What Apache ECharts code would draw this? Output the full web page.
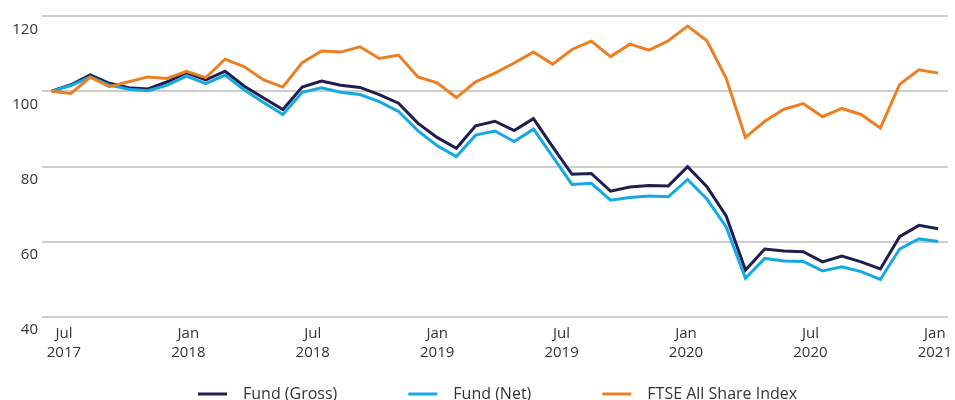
<!DOCTYPE html>
<html>
<head>
<meta charset="utf-8">
<script src="https://cdn.jsdelivr.net/npm/echarts@6/dist/echarts.min.js"></script>
<style>
  html, body { margin: 0; padding: 0; background: #fff; }
  #chart { width: 955px; height: 400px; }
</style>
</head>
<body>
<div id="chart"></div>
<script>
// index of each observation (47 points, Jul 2017 -> Jan 2021)
var points = Array.from({ length: 47 }, function (_, i) { return String(i); });

// month offsets from Jul 2017 used for the date labels
var tickMonths = [0, 6, 12, 18, 24, 30, 36, 42];
var tickLabels = ['Jul\n2017', 'Jan\n2018', 'Jul\n2018', 'Jan\n2019', 'Jul\n2019', 'Jan\n2020', 'Jul\n2020', 'Jan\n2021'];

var fundGross = [100, 101.7, 104.3, 102.1, 100.9, 100.6, 102.5, 104.9, 103, 105.3,
    101.3, 98.2, 95.1, 101.1, 102.7, 101.6, 101, 99.1, 96.8, 91.5,
    87.7, 84.8, 90.8, 92, 89.5, 92.7, 85.2, 77.9, 78.1, 73.4,
    74.5, 74.9, 74.8, 79.9, 74.6, 66.8, 52.4, 58, 57.5, 57.3,
    54.6, 56.1, 54.6, 52.7, 61.3, 64.3, 63.4];

var fundNet = [100, 101.5, 103.8, 101.6, 100.5, 100.1, 101.6, 104, 102, 104.3,
    100.3, 97, 93.8, 99.7, 100.9, 99.7, 99.1, 97.2, 94.6, 89.5,
    85.5, 82.6, 88.3, 89.4, 86.6, 89.9, 82.6, 75.2, 75.5, 71,
    71.7, 72.1, 71.9, 76.5, 71.3, 63.9, 50.2, 55.5, 54.8, 54.7,
    52.2, 53.3, 52, 49.9, 58, 60.7, 60];

var ftseAllShare = [100, 99.4, 103.7, 101.2, 102.5, 103.8, 103.4, 105.3, 103.6, 108.5,
    106.5, 103, 101.1, 107.6, 110.7, 110.4, 111.8, 108.7, 109.6, 103.8,
    102.2, 98.3, 102.5, 104.8, 107.5, 110.4, 107.2, 111.1, 113.3, 109.2,
    112.5, 110.9, 113.4, 117.3, 113.4, 103.4, 87.7, 92, 95.2, 96.7,
    93.2, 95.4, 93.8, 90.2, 101.8, 105.7, 104.8];

var seriesNames = ['Fund (Gross)', 'Fund (Net)', 'FTSE All Share Index'];
var colors = ['#1f1e4e', '#14a9e1', '#ec7f22'];

var myChart = echarts.init(document.getElementById('chart'));
var textColor = '#333333';
var font = '"Open Sans", "Noto Sans", sans-serif';

function lineSeries(name, data, color) {
    return {
        name: name,
        type: 'line',
        xAxisIndex: 0,
        data: data,
        symbol: 'none',
        lineStyle: { color: color, width: 3, join: 'miter' },
        itemStyle: { color: color },
        z: 3
    };
}

var option = {
    animation: false,
    backgroundColor: '#ffffff',
    textStyle: { fontFamily: font },
    color: colors,
    grid: { left: 42, right: 5, top: 16, bottom: 83.3, containLabel: false },
    legend: {
        left: 193,
        top: 381,
        icon: 'rect',
        itemWidth: 29,
        itemHeight: 3,
        itemGap: 71,
        textStyle: { color: textColor, fontSize: 16, fontFamily: font, padding: [0, 0, 0, 11] },
        data: seriesNames
    },
    xAxis: [{
        type: 'category',
        data: points,
        boundaryGap: true,
        axisLine: { show: false },
        axisTick: { show: false },
        axisLabel: { show: false },
        splitLine: { show: false }
    }, {
        // date labels (months since Jul 2017)
        type: 'value',
        position: 'bottom',
        min: -1.058,
        max: 42.625,
        axisLine: { show: false },
        axisTick: { show: false },
        splitLine: { show: false },
        axisLabel: {
            customValues: tickMonths,
            color: textColor,
            fontSize: 15,
            lineHeight: 19,
            margin: 8,
            fontFamily: font,
            formatter: function (v) {
                var k = tickMonths.indexOf(Math.round(v));
                return k >= 0 ? tickLabels[k] : '';
            }
        }
    }],
    yAxis: {
        type: 'value',
        min: 40,
        max: 120,
        interval: 20,
        axisLine: { show: false },
        axisTick: { show: false },
        axisLabel: {
            color: textColor,
            fontSize: 15,
            fontFamily: font,
            margin: 4,
            verticalAlign: 'top',
            padding: [6, 0, 0, 0]
        },
        splitLine: { lineStyle: { color: '#bcbcbc', width: 1.5 } }
    },
    series: [
        lineSeries(seriesNames[0], fundGross, colors[0]),
        lineSeries(seriesNames[1], fundNet, colors[1]),
        lineSeries(seriesNames[2], ftseAllShare, colors[2])
    ]
};
myChart.setOption(option);
</script>
</body>
</html>
